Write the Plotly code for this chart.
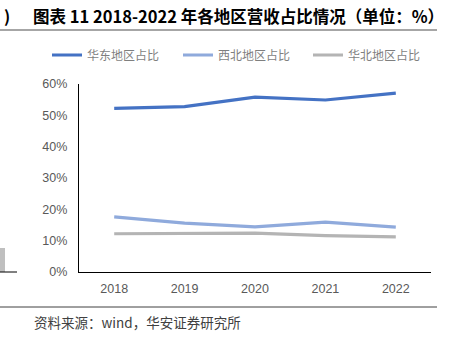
import plotly.graph_objects as go

years = ["2018", "2019", "2020", "2021", "2022"]
east = [52.2, 52.8, 55.8, 54.9, 57.1]
northwest = [17.6, 15.6, 14.4, 15.9, 14.3]
north = [12.2, 12.2, 12.4, 11.6, 11.2]
series_names = ["华东地区占比", "西北地区占比", "华北地区占比"]
colors = ["#4472C4", "#8FAADC", "#B4B4B4"]

W, H = 459, 348
L, R, T, B = 79, 431, 84, 272

def px(x):
    return (x - L) / (R - L)

def py(y):
    return (B - y) / (B - T)

cjk = "Noto Sans CJK SC"
legend_ids = ["legend", "legend2", "legend3"]
legend_x = [47, 178, 308]

fig = go.Figure()
for name, vals, c, lid in zip(series_names, [east, northwest, north], colors, legend_ids):
    fig.add_trace(go.Scatter(x=years, y=vals, name=name, mode="lines", legend=lid,
                             line=dict(color=c, width=3.2)))

layout_legends = {}
for lid, lx in zip(legend_ids, legend_x):
    layout_legends[lid] = dict(orientation="h", x=px(lx), y=py(55), xanchor="left",
                               yanchor="middle",
                               font=dict(family=cjk, size=12, color="#7F7F7F"),
                               itemwidth=30, bgcolor="rgba(0,0,0,0)")

tickfont = dict(family="Liberation Sans", size=12.5, color="#595959")
fig.update_layout(
    width=W, height=H,
    margin=dict(l=L, r=W - R, t=T, b=H - B, pad=0),
    paper_bgcolor="white", plot_bgcolor="white",
    showlegend=True,
    xaxis=dict(type="category", range=[-0.5, 4.5], showgrid=False, showline=True,
               linecolor="black", linewidth=1.2, ticks="", zeroline=False,
               ticklabelstandoff=5, tickfont=tickfont),
    yaxis=dict(range=[0, 60], dtick=10, ticksuffix="%", showgrid=False, showline=True,
               linecolor="black", linewidth=1.2, ticks="", zeroline=False,
               ticklabelstandoff=8, tickfont=tickfont),
    **layout_legends,
)

fig.add_annotation(xref="paper", yref="paper", x=px(31), y=py(16), xanchor="left",
                   yanchor="middle", showarrow=False,
                   text="<b>图表 11 2018-2022 年各地区营收占比情况（单位：%）</b>",
                   font=dict(family=cjk, size=16.5, color="black"))
fig.add_annotation(xref="paper", yref="paper", x=px(2), y=py(16), xanchor="left",
                   yanchor="middle", showarrow=False, text="<b>)</b>",
                   font=dict(family=cjk, size=16.5, color="black"))
fig.add_annotation(xref="paper", yref="paper", x=px(32), y=py(322), xanchor="left",
                   yanchor="middle", showarrow=False,
                   text="资料来源：wind，华安证券研究所",
                   font=dict(family=cjk, size=13.5, color="#404040"))

shapes = [
    dict(type="line", xref="paper", yref="paper", x0=px(0), x1=px(437), y0=py(30), y1=py(30),
         line=dict(color="#A6A6A6", width=2)),
    dict(type="line", xref="paper", yref="paper", x0=px(0), x1=px(437), y0=py(307), y1=py(307),
         line=dict(color="#404040", width=1)),
    dict(type="rect", xref="paper", yref="paper", x0=px(0), x1=px(5), y0=py(272), y1=py(248),
         fillcolor="#BFBFBF", line=dict(width=0)),
    dict(type="line", xref="paper", yref="paper", x0=px(0), x1=px(17), y0=py(272), y1=py(272),
         line=dict(color="black", width=1)),
]
fig.update_layout(shapes=shapes)

fig.write_html("out.html")
